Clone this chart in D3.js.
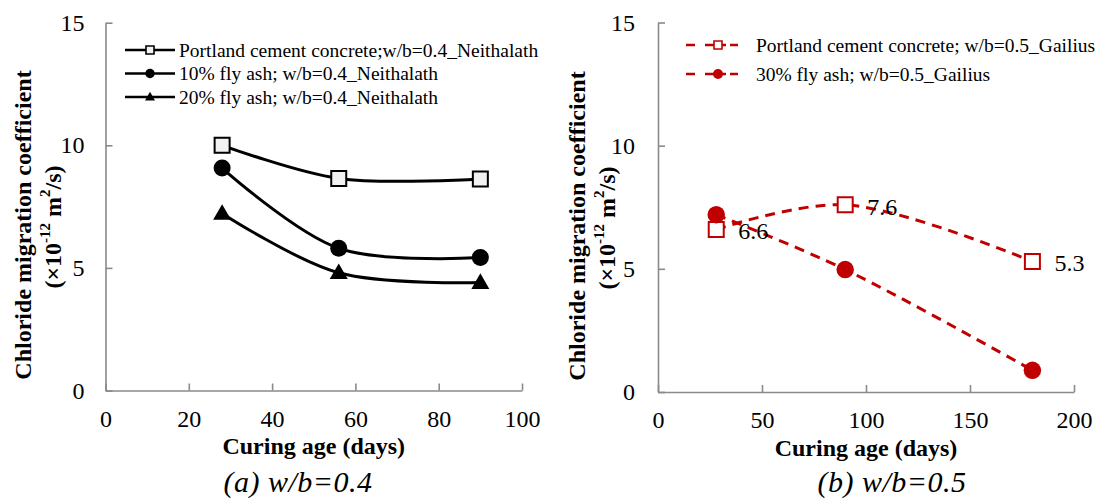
<!DOCTYPE html>
<html>
<head>
<meta charset="utf-8">
<script src="https://cdn.jsdelivr.net/npm/d3@7"></script>
<style>
  body { margin: 0; background: #fff; }
  svg text { font-family: "Liberation Serif", "Times New Roman", serif; fill: #000; }
</style>
</head>
<body>
<svg id="chart" width="1101" height="500"></svg>
<script>
// ---- Panel (a): w/b = 0.4 (Neithalath) ----
const agesA = [28, 56, 90];
const portlandA = [10.0, 8.65, 8.63];
const flyAsh10A = [9.07, 5.8, 5.42];
const flyAsh20A = [7.22, 4.8, 4.4];
const namesA = [
  "Portland cement concrete;w/b=0.4_Neithalath",
  "10% fly ash; w/b=0.4_Neithalath",
  "20% fly ash; w/b=0.4_Neithalath"
];

// ---- Panel (b): w/b = 0.5 (Gailius) ----
const agesB = [28, 90, 180];
const portlandB = [6.6, 7.6, 5.3];
const flyAsh30B = [7.2, 4.97, 0.88];
const namesB = [
  "Portland cement concrete; w/b=0.5_Gailius",
  "30% fly ash; w/b=0.5_Gailius"
];

// ---- Axis ticks and captions ----
const yTicks = [0, 5, 10, 15];
const xTicksA = [0, 20, 40, 60, 80, 100];
const xTicksB = [0, 50, 100, 150, 200];
const xTitle = "Curing age (days)";
const yTitle1 = "Chloride migration coefficient";
const captionA = "(a) w/b=0.4";
const captionB = "(b) w/b=0.5";

const RED = "#c00000";
const AXIS = "#8a8a8a";
const FONT = '"Liberation Serif", "Times New Roman", serif';
const svg = d3.select("#chart");

function marker(g, type, cx, cy, size, stroke, fill, sw) {
  let sym;
  if (type === "square") sym = d3.symbolSquare;
  else if (type === "circle") sym = d3.symbolCircle;
  else sym = d3.symbolTriangle;
  let area;
  if (type === "square") area = size * size;
  else if (type === "circle") area = Math.PI * (size / 2) * (size / 2);
  else area = size * size * Math.sqrt(3) / 4;
  const dy = type === "triangle" ? size * 0.06 : 0;
  g.append("path")
    .attr("d", d3.symbol().type(sym).size(area)())
    .attr("transform", `translate(${cx},${cy + dy})`)
    .attr("fill", fill)
    .attr("stroke", stroke)
    .attr("stroke-width", sw);
}

function drawPanel(p) {
  const g = svg.append("g").attr("font-family", FONT);
  const x = d3.scaleLinear().domain([0, p.xMax]).range([p.left, p.right]);
  const y = d3.scaleLinear().domain([0, 15]).range([p.bottom, p.top]);

  // axes with inward ticks
  const xa = g.append("g").attr("transform", `translate(0,${p.bottom})`)
    .call(d3.axisBottom(x).tickValues(p.xTicks).tickSizeInner(-7).tickSizeOuter(0).tickPadding(19));
  const ya = g.append("g").attr("transform", `translate(${p.left},0)`)
    .call(d3.axisLeft(y).tickValues(yTicks).tickSizeInner(-7).tickSizeOuter(0).tickPadding(p.yPad));
  [xa, ya].forEach(a => {
    a.attr("font-family", FONT);
    a.selectAll("path, line").attr("stroke", AXIS).attr("stroke-width", 1.6);
    a.selectAll("text").attr("font-size", 24).attr("fill", "#000");
  });

  // x-axis title
  g.append("text")
    .attr("x", (p.left + p.right) / 2).attr("y", p.xTitleY)
    .attr("text-anchor", "middle").attr("font-weight", "bold").attr("font-size", 24)
    .text(xTitle);

  // y-axis title (two rotated lines)
  g.append("text")
    .attr("transform", `translate(${p.yTitleX1},${p.yTitleY}) rotate(-90)`)
    .attr("text-anchor", "middle").attr("dominant-baseline", "central")
    .attr("font-weight", "bold").attr("font-size", 24)
    .text(yTitle1);
  const t2 = g.append("text")
    .attr("transform", `translate(${p.yTitleX2},${p.yTitleY + 2}) rotate(-90)`)
    .attr("text-anchor", "middle").attr("dominant-baseline", "central")
    .attr("font-weight", "bold").attr("font-size", 24);
  t2.append("tspan").text("(×10");
  t2.append("tspan").attr("dy", -8).attr("font-size", 15).text("-12");
  t2.append("tspan").attr("dy", 8).text(" m");
  t2.append("tspan").attr("dy", -8).attr("font-size", 15).text("2");
  t2.append("tspan").attr("dy", 8).text("/s)");

  // caption
  g.append("text")
    .attr("x", p.captionX).attr("y", p.captionY)
    .attr("text-anchor", "middle").attr("font-style", "italic").attr("font-size", 30)
    .attr("letter-spacing", 0.5)
    .text(p.caption);

  // series lines (smoothed) then markers
  const line = d3.line().x(d => x(d[0])).y(d => y(d[1])).curve(d3.curveCatmullRom.alpha(0.5));
  p.series.forEach(s => {
    const pts = p.ages.map((a, i) => [a, s.values[i]]);
    g.append("path").datum(pts)
      .attr("d", line)
      .attr("fill", "none")
      .attr("stroke", s.color)
      .attr("stroke-width", 3)
      .attr("stroke-dasharray", s.dash || null);
  });
  p.series.forEach(s => {
    p.ages.forEach((a, i) => {
      marker(g, s.marker, x(a), y(s.values[i]), s.size, s.mStroke, s.mFill, 2);
    });
    if (s.labels) {
      p.ages.forEach((a, i) => {
        g.append("text")
          .attr("x", x(a) + 22).attr("y", y(s.values[i]) + 2)
          .attr("dominant-baseline", "central")
          .attr("font-size", 24)
          .text(d3.format(".1f")(s.values[i]));
      });
    }
  });

  // legend
  p.series.forEach((s, i) => {
    const ly = p.legY + i * p.legStep;
    g.append("line")
      .attr("x1", p.legX1).attr("x2", p.legX2).attr("y1", ly).attr("y2", ly)
      .attr("stroke", s.color).attr("stroke-width", 2.6)
      .attr("stroke-dasharray", s.dash ? "9,10,21,4,10" : null);
    marker(g, s.marker, p.legMark, ly, s.legSize, s.mStroke, s.mFill, 1.6);
    g.append("text")
      .attr("x", p.legText).attr("y", ly)
      .attr("dominant-baseline", "central")
      .attr("font-size", 19.5)
      .text(s.name);
  });
}

drawPanel({
  left: 105.5, right: 522, top: 22.7, bottom: 390.5, xMax: 100,
  xTicks: xTicksA, yPad: 21,
  xTitleY: 454, yTitleX1: 23, yTitleX2: 53, yTitleY: 225,
  caption: captionA, captionX: 298, captionY: 492,
  ages: agesA,
  legX1: 125, legX2: 175, legMark: 150, legText: 179, legY: 50, legStep: 23.5,
  series: [
    { name: namesA[0], values: portlandA, color: "#000", marker: "square", size: 15, legSize: 8, mStroke: "#000", mFill: "#f2f2f2" },
    { name: namesA[1], values: flyAsh10A, color: "#000", marker: "circle", size: 17, legSize: 9.5, mStroke: "none", mFill: "#000" },
    { name: namesA[2], values: flyAsh20A, color: "#000", marker: "triangle", size: 18, legSize: 10, mStroke: "none", mFill: "#000" }
  ]
});

drawPanel({
  left: 658, right: 1074, top: 22.5, bottom: 392, xMax: 200,
  xTicks: xTicksB, yPad: 23,
  xTitleY: 456, yTitleX1: 577, yTitleX2: 607, yTitleY: 226,
  caption: captionB, captionX: 892, captionY: 492,
  ages: agesB,
  legX1: 686, legX2: 738, legMark: 718, legText: 756, legY: 45, legStep: 29,
  series: [
    { name: namesB[0], values: portlandB, color: RED, dash: "10,7", marker: "square", size: 15, legSize: 8, mStroke: RED, mFill: "#fff", labels: true },
    { name: namesB[1], values: flyAsh30B, color: RED, dash: "10,7", marker: "circle", size: 17.5, legSize: 10, mStroke: "none", mFill: RED }
  ]
});
</script>
</body>
</html>
